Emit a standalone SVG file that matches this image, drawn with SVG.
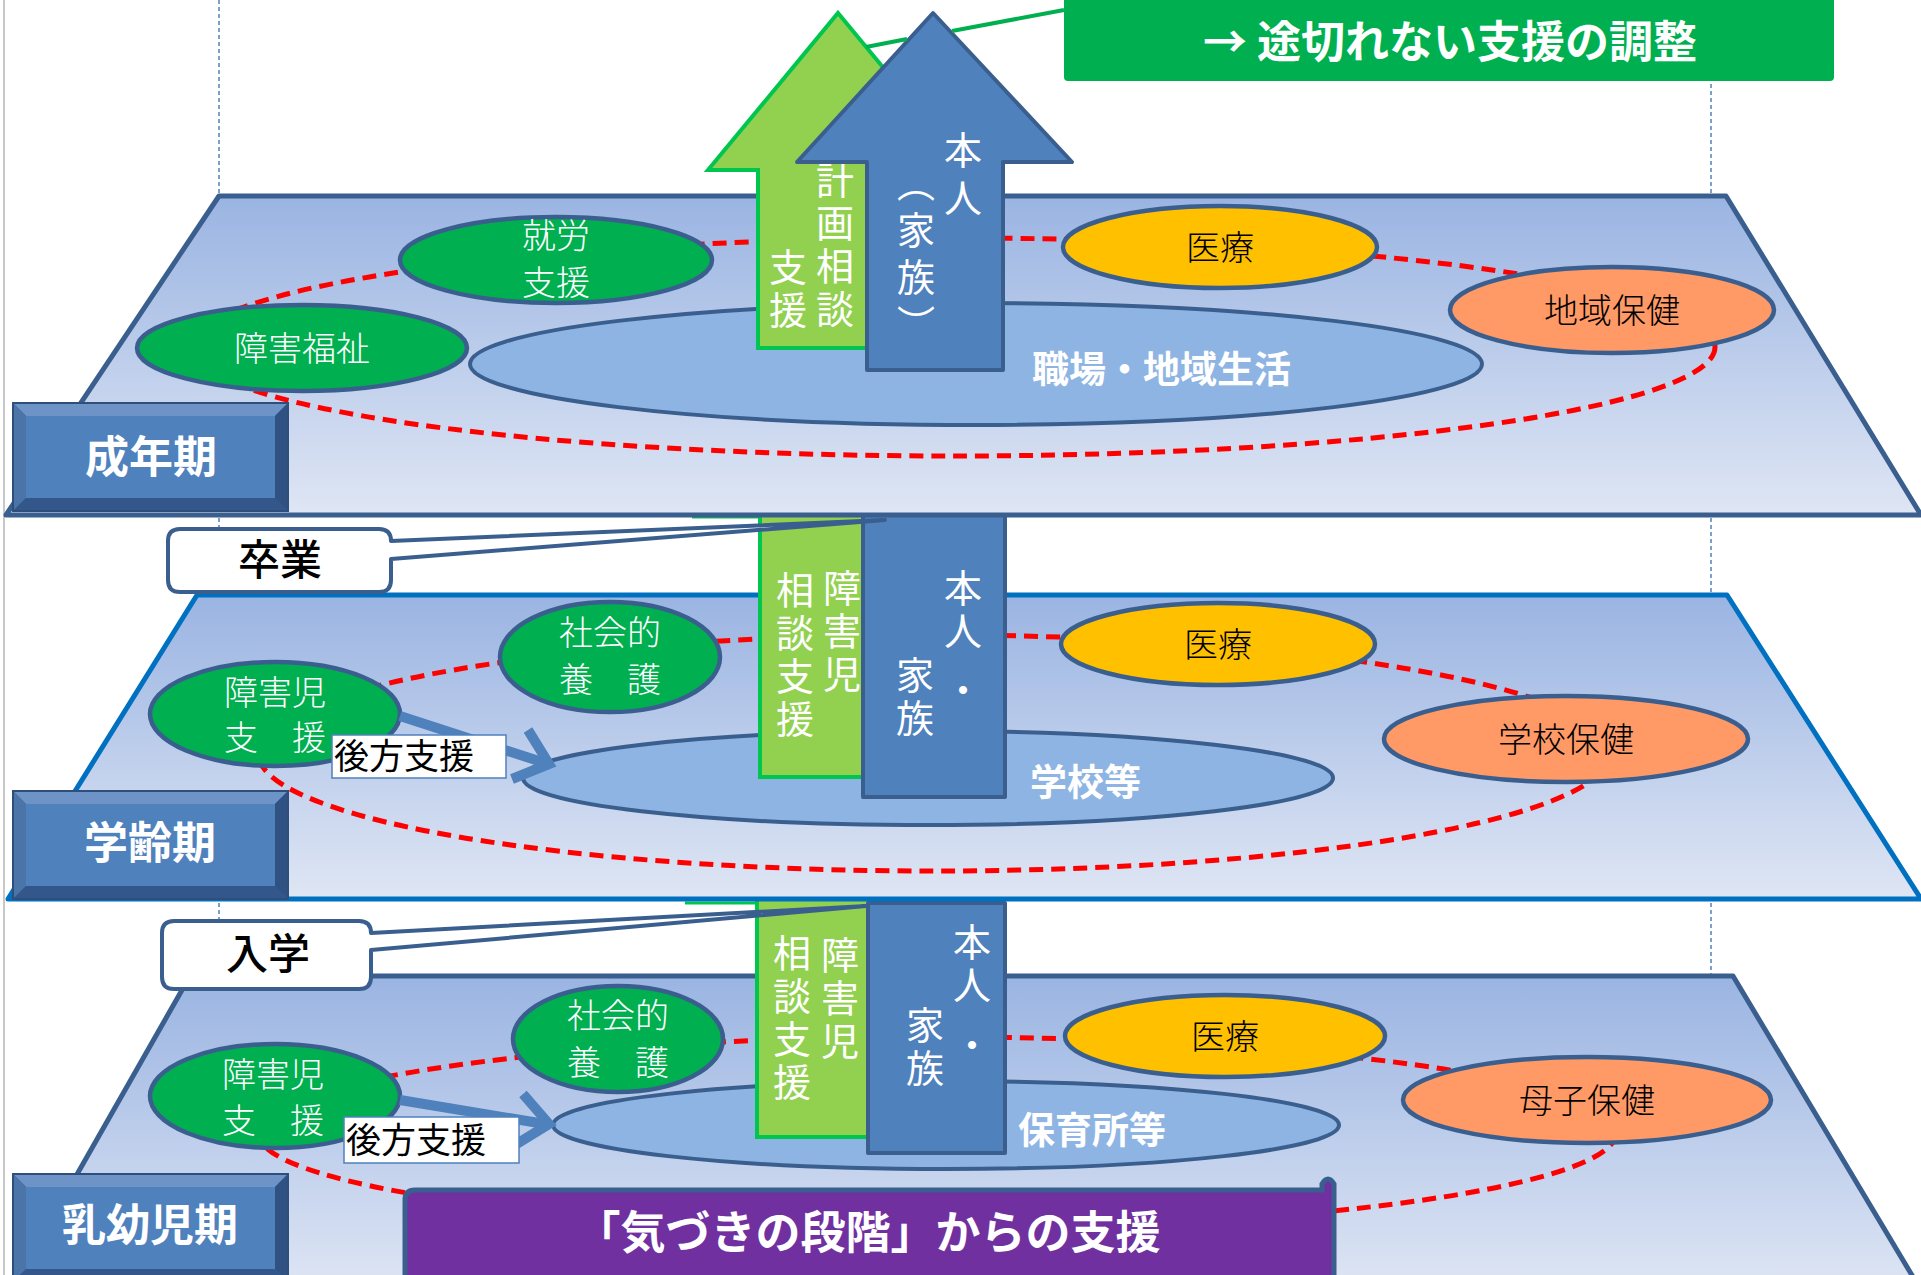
<svg xmlns="http://www.w3.org/2000/svg" width="1921" height="1275" viewBox="0 0 1921 1275">
<defs>
<style>
.jp{font-family:"Noto Sans CJK JP","Noto Sans CJK SC",sans-serif}
.plane{fill:url(#pg);stroke:#3A5F8F;stroke-width:5;stroke-linejoin:round}
.plane.b{stroke:#0070C0}
.ring{fill:none;stroke:#FF0000;stroke-width:5;stroke-dasharray:14 8}
.big{fill:#8EB4E3;stroke:#3A5F8F;stroke-width:4}
.gr{fill:#00B050;stroke:#3A5F8F;stroke-width:4.5}
.ye{fill:#FFC000;stroke:#3A5F8F;stroke-width:4.5}
.or{fill:#FF9966;stroke:#3A5F8F;stroke-width:4.5}
.lbl{font-size:34px;font-weight:300;text-anchor:middle}
.wt{fill:#FFFFFF}
.bk{fill:#000000}
.bigt{font-size:37px;font-weight:700;fill:#FFFFFF}
.stage{font-size:44px;font-weight:700;fill:#FFFFFF;text-anchor:middle}
.vt{writing-mode:vertical-rl;font-size:38px;fill:#FFFFFF;letter-spacing:5px}
.ga{fill:#92D050;stroke:#00C650;stroke-width:4;stroke-linejoin:miter}
.ba{fill:#4F81BD;stroke:#3A5F8F;stroke-width:4;stroke-linejoin:round}
.co{fill:#FFFFFF;stroke:#3A5F8F;stroke-width:4;stroke-linejoin:round}
.bs{fill:#FFFFFF;stroke:#4F81BD;stroke-width:1.5}
.sup{fill:none;stroke:#4F81BD;stroke-width:10}
.guide{stroke:#4F81BD;stroke-width:1.5;stroke-dasharray:4 3}
</style>
<linearGradient id="pg" x1="0" y1="0" x2="0" y2="1">
<stop offset="0" stop-color="#9AB4E2"/>
<stop offset="1" stop-color="#DFE6F4"/>
</linearGradient>
<g id="sb">
<rect x="0" y="0" width="277" height="110" fill="#3A5F8F"/>
<polygon points="0,0 277,0 263,14 14,14" fill="#6E93C6"/>
<polygon points="0,0 14,14 14,96 0,110" fill="#4B74A8"/>
<polygon points="277,0 277,110 263,96 263,14" fill="#2F5283"/>
<polygon points="0,110 277,110 263,96 14,96" fill="#33578A"/>
<rect x="14" y="14" width="249" height="82" fill="#4F81BD"/>
<rect x="1" y="1" width="275" height="108" fill="none" stroke="#2E4E7C" stroke-width="2"/>
</g>
</defs>
<rect x="0" y="0" width="1921" height="1275" fill="#FFFFFF"/>
<g id="guides">
<line x1="4" y1="0" x2="4" y2="1275" stroke="#C8C8C8" stroke-width="2"/>
<line class="guide" x1="219" y1="0" x2="219" y2="1275"/>
<line class="guide" x1="1711" y1="0" x2="1711" y2="1275"/>
</g>

<!-- Layer 3: 乳幼児期 -->
<g id="layer-infant">
<polygon class="plane" points="190,976 1733,976 1922,1292 10,1292"/>
<ellipse class="ring" cx="937" cy="1133" rx="679" ry="96"/>
<ellipse class="big" cx="946" cy="1125" rx="393" ry="44"/>
<text class="jp bigt" x="1018" y="1144">保育所等</text>
<line x1="685" y1="903" x2="1000" y2="903" stroke="#00C650" stroke-width="3"/>
<rect class="ga" x="757" y="896" width="112" height="241"/>
<text class="jp vt" x="840" y="936">障害児</text>
<text class="jp vt" x="792" y="934">相談支援</text>
<rect class="ba" x="868" y="903" width="137" height="250"/>
<text class="jp vt" x="972" y="923">本人<tspan dy="17">・</tspan></text>
<text class="jp vt" x="925" y="1006">家族</text>
<path d="M405,1200 Q405,1190 415,1190 L1322,1190 L1322,1184 Q1328,1174 1334,1184 L1334,1290 L405,1290 Z" fill="#7030A0" stroke="#3A5F8F" stroke-width="5"/>
<text class="jp" x="868" y="1249" font-size="45" font-weight="700" fill="#FFFFFF" text-anchor="middle">「気づきの段階」からの支援</text>
</g>
<g id="n-infant-shakai">
<ellipse class="gr" cx="618" cy="1039" rx="105" ry="53"/>
<text class="jp lbl wt" x="618" y="1028">社会的<tspan x="618" dy="47">養　護</tspan></text>
</g>
<g id="n-infant-shogaiji">
<ellipse class="gr" cx="275" cy="1096" rx="125" ry="52"/>
<text class="jp lbl wt" x="273" y="1087">障害児<tspan x="273" dy="46">支　援</tspan></text>
</g>
<g id="n-infant-iryo">
<ellipse class="ye" cx="1225" cy="1036" rx="160" ry="41"/>
<text class="jp lbl bk" x="1225" y="1049">医療</text>
</g>
<g id="n-infant-boshi">
<ellipse class="or" cx="1587" cy="1100" rx="184" ry="43"/>
<text class="jp lbl bk" x="1587" y="1113">母子保健</text>
</g>
<g id="stage-infant">
<use href="#sb" x="12" y="1173"/>
<text class="jp stage" x="150" y="1241">乳幼児期</text>
</g>

<!-- Layer 2: 学齢期 -->
<g id="layer-school">
<polygon class="plane b" points="197,595 1727,595 1921,899 8,899"/>
<ellipse class="ring" cx="934" cy="753" rx="676" ry="118"/>
<ellipse class="big" cx="928" cy="778" rx="405" ry="47"/>
<text class="jp bigt" x="1030" y="796">学校等</text>
<line x1="692" y1="517" x2="862" y2="517" stroke="#00C650" stroke-width="3"/>
<rect class="ga" x="760" y="508" width="108" height="269"/>
<text class="jp vt" x="842" y="569">障害児</text>
<text class="jp vt" x="795" y="571">相談支援</text>
<rect class="ba" x="863" y="514" width="142" height="283"/>
<text class="jp vt" x="963" y="569">本人<tspan dy="16">・</tspan></text>
<text class="jp vt" x="915" y="656">家族</text>
</g>
<g id="n-school-shakai">
<ellipse class="gr" cx="610" cy="657" rx="110" ry="55"/>
<text class="jp lbl wt" x="610" y="645">社会的<tspan x="610" dy="47">養　護</tspan></text>
</g>
<g id="n-school-shogaiji">
<ellipse class="gr" cx="275" cy="714" rx="125" ry="52"/>
<text class="jp lbl wt" x="275" y="705">障害児<tspan x="275" dy="45">支　援</tspan></text>
</g>
<g id="n-school-iryo">
<ellipse class="ye" cx="1218" cy="644" rx="157" ry="41"/>
<text class="jp lbl bk" x="1218" y="657">医療</text>
</g>
<g id="n-school-gakko">
<ellipse class="or" cx="1566" cy="739" rx="182" ry="43"/>
<text class="jp lbl bk" x="1566" y="752">学校保健</text>
</g>
<g id="stage-school">
<use href="#sb" x="12" y="790"/>
<text class="jp stage" x="150" y="859">学齢期</text>
</g>

<!-- Layer 1: 成年期 -->
<g id="layer-adult">
<polygon class="plane" points="219,196 1726,196 1921,515 6,515"/>
<ellipse class="ring" cx="953" cy="347" rx="762" ry="109"/>
<ellipse class="big" cx="976" cy="364" rx="506" ry="61"/>
<text class="jp bigt" x="1032" y="383">職場・地域生活</text>
<path class="ga" d="M838,13 L968,170 L918,170 L918,348 L758,348 L758,170 L708,170 Z"/>
<text class="jp vt" x="835" y="161">計画相談</text>
<text class="jp vt" x="788" y="248">支援</text>
<path class="ba" d="M933,13 L1072,162 L1003,162 L1003,370 L867,370 L867,162 L797,162 Z"/>
<text class="jp vt" x="963" y="131" style="letter-spacing:10px">本人</text>
<text class="jp vt" x="916" y="164" style="letter-spacing:9px">（家族）</text>
</g>
<g id="n-adult-shuro">
<ellipse class="gr" cx="556" cy="260" rx="156" ry="43"/>
<text class="jp lbl wt" x="556" y="248">就労<tspan x="556" dy="47">支援</tspan></text>
</g>
<g id="n-adult-fukushi">
<ellipse class="gr" cx="302" cy="348" rx="165" ry="43"/>
<text class="jp lbl wt" x="302" y="361">障害福祉</text>
</g>
<g id="n-adult-iryo">
<ellipse class="ye" cx="1220" cy="247" rx="157" ry="41"/>
<text class="jp lbl bk" x="1220" y="260">医療</text>
</g>
<g id="n-adult-chiiki">
<ellipse class="or" cx="1612" cy="310" rx="162" ry="43"/>
<text class="jp lbl bk" x="1612" y="323">地域保健</text>
</g>
<g id="stage-adult">
<use href="#sb" x="12" y="402"/>
<text class="jp stage" x="151" y="473">成年期</text>
</g>

<!-- connectors -->
<g id="connectors">
<line x1="1064" y1="10" x2="952" y2="31" stroke="#00B050" stroke-width="4"/>
<line x1="907" y1="39" x2="866" y2="47" stroke="#00B050" stroke-width="4"/>
<line class="sup" x1="400" y1="716" x2="545" y2="763"/>
<polyline class="sup" points="528,730 549,764 512,779"/>
<line class="sup" x1="400" y1="1100" x2="545" y2="1124"/>
<polyline class="sup" points="523,1094 549,1124 515,1145"/>
</g>

<!-- labels on top -->
<g id="n-school-kouhou">
<rect class="bs" x="332" y="735" width="174" height="43"/>
<text class="jp bk" x="334" y="769" font-size="35">後方支援</text>
</g>
<g id="n-infant-kouhou">
<rect class="bs" x="344" y="1117" width="175" height="46"/>
<text class="jp bk" x="346" y="1153" font-size="35">後方支援</text>
</g>
<g id="callout-sotsugyo">
<path class="co" d="M180,529 L379,529 Q391,529 391,541 L885,520 L391,559 L391,580 Q391,592 379,592 L180,592 Q168,592 168,580 L168,541 Q168,529 180,529 Z"/>
<text class="jp bk" x="280" y="575" font-size="42" font-weight="500" text-anchor="middle">卒業</text>
</g>
<g id="callout-nyugaku">
<path class="co" d="M174,921 L359,921 Q371,921 371,933 L866,906 L371,950 L371,977 Q371,989 359,989 L174,989 Q162,989 162,977 L162,933 Q162,921 174,921 Z"/>
<text class="jp bk" x="268" y="969" font-size="42" font-weight="500" text-anchor="middle">入学</text>
</g>
<g id="callout-top">
<rect x="1064" y="-8" width="770" height="89" rx="4" fill="#00B050"/>
<text class="jp" x="1450" y="58" font-size="44" font-weight="700" fill="#FFFFFF" text-anchor="middle">→ 途切れない支援の調整</text>
</g>
</svg>
